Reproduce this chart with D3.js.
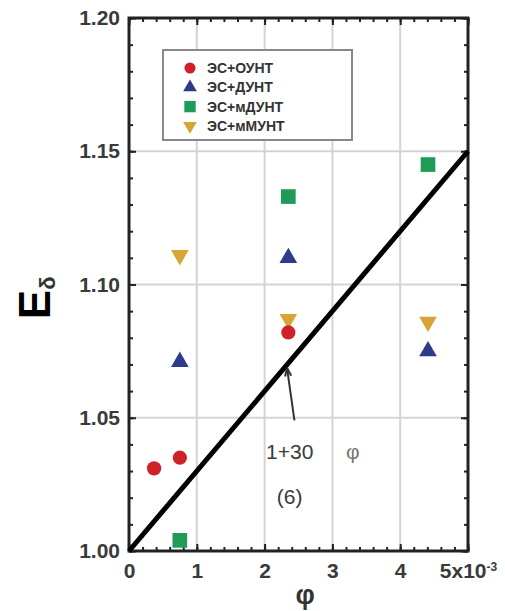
<!DOCTYPE html>
<html>
<head>
<meta charset="utf-8">
<script src="https://cdn.jsdelivr.net/npm/d3@7/dist/d3.min.js"></script>
<style>
  html, body { margin: 0; padding: 0; background: #fff; }
  svg { display: block; font-family: "Liberation Sans", Arial, sans-serif; }
</style>
</head>
<body>
<svg id="chart" width="505" height="611"></svg>
<script>
// Volume fraction φ (×10⁻³) and effective modulus ratio E_δ for each composite
const seriesNames = ["ЭС+ОУНТ", "ЭС+ДУНТ", "ЭС+мДУНТ", "ЭС+мМУНТ"];
const ountPhi  = [0.37, 0.75, 2.35];
const ountE    = [1.031, 1.035, 1.082];
const duntPhi  = [0.75, 2.35, 4.41];
const duntE    = [1.071, 1.110, 1.075];
const mduntPhi = [0.75, 2.35, 4.41];
const mduntE   = [1.004, 1.133, 1.145];
const mmuntPhi = [0.75, 2.35, 4.41];
const mmuntE   = [1.111, 1.087, 1.086];

// Model line (6): E = 1 + 30·φ
const modelCoef = 30;
const modelPhi = [0, 5];

const yTicks = [1.00, 1.05, 1.10, 1.15, 1.20];
const xTicks = [0, 1, 2, 3, 4, 5];
const xTickLabels = ["0", "1", "2", "3", "4", "5x10"];

const svg = d3.select("#chart");
const x = d3.scaleLinear().domain([0, 5]).range([129, 468]);
const y = d3.scaleLinear().domain([1.0, 1.2]).range([551, 18]);

const colors = ["#cf2228", "#2d3b8a", "#1f9a57", "#d7a536"];
const symbols = [d3.symbolCircle, d3.symbolTriangle, d3.symbolSquare, d3.symbolTriangle];
const sizes = [160, 135, 215, 135];
const rotations = [0, 0, 0, 180];

const series = [
  { phi: ountPhi,  e: ountE },
  { phi: duntPhi,  e: duntE },
  { phi: mduntPhi, e: mduntE },
  { phi: mmuntPhi, e: mmuntE }
];

// Grid
const grid = svg.append("g").attr("stroke", "#d4d4d4").attr("stroke-width", 2);
[1, 2, 3, 4].forEach(v => grid.append("line")
  .attr("x1", x(v)).attr("x2", x(v)).attr("y1", y(1.0)).attr("y2", y(1.2)));
[1.05, 1.10, 1.15].forEach(v => grid.append("line")
  .attr("x1", x(0)).attr("x2", x(5)).attr("y1", y(v)).attr("y2", y(v)));

// Axes with inward ticks on all four sides
function styleAxis(g) {
  g.select(".domain").remove();
  g.selectAll(".tick line").attr("stroke", "#222").attr("stroke-width", 2);
}
const minorX = d3.range(0, 5.001, 0.2);
const minorY = d3.range(1.0, 1.2001, 0.01);

svg.append("g").attr("transform", `translate(0,${y(1.0)})`)
  .call(d3.axisBottom(x).tickValues(minorX).tickSize(-4).tickFormat("")).call(styleAxis);
svg.append("g").attr("transform", `translate(0,${y(1.2)})`)
  .call(d3.axisTop(x).tickValues(minorX).tickSize(-4).tickFormat("")).call(styleAxis);
svg.append("g").attr("transform", `translate(${x(0)},0)`)
  .call(d3.axisLeft(y).tickValues(minorY).tickSize(-4).tickFormat("")).call(styleAxis);
svg.append("g").attr("transform", `translate(${x(5)},0)`)
  .call(d3.axisRight(y).tickValues(minorY).tickSize(-4).tickFormat("")).call(styleAxis);

const xAxis = svg.append("g").attr("transform", `translate(0,${y(1.0)})`)
  .call(d3.axisBottom(x).tickValues(xTicks).tickSize(-7).tickPadding(12)
    .tickFormat((d, i) => xTickLabels[i]))
  .call(styleAxis);
svg.append("g").attr("transform", `translate(0,${y(1.2)})`)
  .call(d3.axisTop(x).tickValues(xTicks).tickSize(-7).tickFormat("")).call(styleAxis);
const yAxis = svg.append("g").attr("transform", `translate(${x(0)},0)`)
  .call(d3.axisLeft(y).tickValues(yTicks).tickSize(-7).tickPadding(9).tickFormat(d3.format(".2f")))
  .call(styleAxis);
svg.append("g").attr("transform", `translate(${x(5)},0)`)
  .call(d3.axisRight(y).tickValues(yTicks).tickSize(-7).tickFormat("")).call(styleAxis);

[xAxis, yAxis].forEach(g => g.selectAll(".tick text")
  .attr("fill", "#3a3a3a").style("font-size", "21px").style("font-weight", "bold")
  .style("font-family", "'Liberation Sans', Arial, sans-serif"));

// exponent on the last x label
xAxis.selectAll(".tick").filter(d => d === 5).select("text")
  .append("tspan").attr("dy", "-0.55em").style("font-size", "12px").text("-3");

// Frame
svg.append("rect")
  .attr("x", x(0)).attr("y", y(1.2))
  .attr("width", x(5) - x(0)).attr("height", y(1.0) - y(1.2))
  .attr("fill", "none").attr("stroke", "#222").attr("stroke-width", 3);

// Data markers (first series drawn last so it sits on top)
const markers = svg.append("g");
for (let s = series.length - 1; s >= 0; s--) {
  const sym = d3.symbol().type(symbols[s]).size(sizes[s]);
  markers.selectAll(null)
    .data(series[s].phi.map((p, i) => [p, series[s].e[i]]))
    .join("path")
    .attr("d", sym)
    .attr("transform", d => `translate(${x(d[0])},${y(d[1])}) rotate(${rotations[s]})`)
    .attr("fill", colors[s]);
}

// Model line
svg.append("path")
  .datum(modelPhi)
  .attr("d", d3.line().x(p => x(p)).y(p => y(1 + modelCoef * p / 1000)))
  .attr("stroke", "#000").attr("stroke-width", 5).attr("fill", "none");

// Arrow pointing to the model line
const headPhi = 2.33;
const headE = 1 + modelCoef * headPhi / 1000;
const tail = [x(2.44), y(1.049)];
const head = [x(headPhi), y(headE) + 3];
svg.append("line")
  .attr("x1", tail[0]).attr("y1", tail[1]).attr("x2", head[0]).attr("y2", head[1])
  .attr("stroke", "#333").attr("stroke-width", 2);
const ang = Math.atan2(head[1] - tail[1], head[0] - tail[0]);
const ah = 9, aw = 0.35;
svg.append("path")
  .attr("d", `M${head[0]},${head[1]}
    L${head[0] - ah * Math.cos(ang - aw)},${head[1] - ah * Math.sin(ang - aw)}
    M${head[0]},${head[1]}
    L${head[0] - ah * Math.cos(ang + aw)},${head[1] - ah * Math.sin(ang + aw)}`)
  .attr("stroke", "#333").attr("stroke-width", 2).attr("fill", "none");

// Annotation text
svg.append("text")
  .attr("x", x(2.37)).attr("y", y(1.0345))
  .attr("text-anchor", "middle").attr("fill", "#3a3a3a")
  .style("font-size", "21px").text("1+30");
svg.append("text")
  .attr("x", x(3.30)).attr("y", y(1.0345))
  .attr("text-anchor", "middle").attr("fill", "#777")
  .style("font-size", "21px").text("φ");
svg.append("text")
  .attr("x", x(2.37)).attr("y", y(1.0175))
  .attr("text-anchor", "middle").attr("fill", "#3a3a3a")
  .style("font-size", "21px").text("(6)");

// Axis titles
svg.append("text")
  .attr("x", x(2.6)).attr("y", 604)
  .attr("text-anchor", "middle").attr("fill", "#333")
  .style("font-size", "27px").style("font-weight", "bold").text("φ");

const yTitle = svg.append("text")
  .attr("transform", `translate(50,${y(1.095)}) rotate(-90)`)
  .attr("text-anchor", "middle").attr("fill", "#000")
  .style("font-weight", "bold");
yTitle.append("tspan").style("font-size", "44px").text("E");
yTitle.append("tspan").attr("dy", "0.22em").attr("fill", "#333")
  .style("font-size", "22px").text("δ");

// Legend
const lg = svg.append("g");
lg.append("rect").attr("x", 163).attr("y", 50).attr("width", 189).attr("height", 90)
  .attr("fill", "#fff").attr("stroke", "#888").attr("stroke-width", 2);
seriesNames.forEach((name, i) => {
  const cy = 68 + i * 19.3;
  lg.append("path")
    .attr("d", d3.symbol().type(symbols[i]).size(sizes[i] * 0.6)())
    .attr("transform", `translate(190,${cy}) rotate(${rotations[i]})`)
    .attr("fill", colors[i]);
  lg.append("text").attr("x", 207).attr("y", cy + 5)
    .attr("fill", "#333").style("font-size", "14px").style("font-weight", "bold")
    .text(name);
});
</script>
</body>
</html>
